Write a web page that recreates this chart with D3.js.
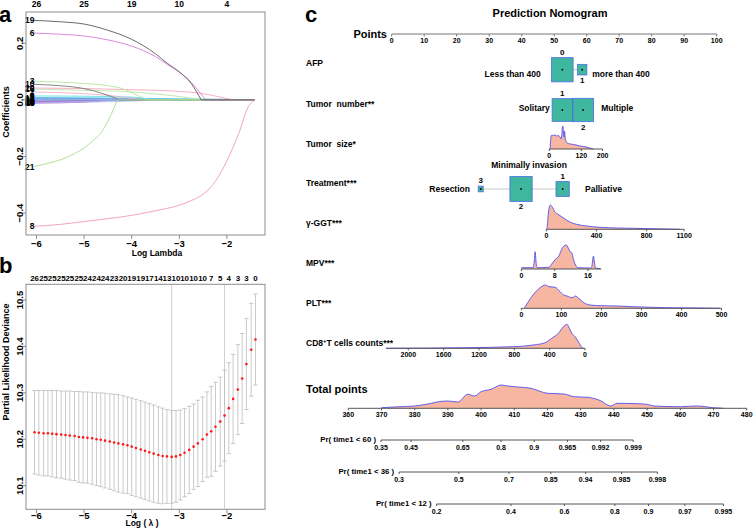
<!DOCTYPE html>
<html><head><meta charset="utf-8">
<script src="https://cdn.jsdelivr.net/npm/d3@7"></script>
<style>
body{margin:0;background:#fff}
text{font-family:"Liberation Sans",Arial,Helvetica,sans-serif;font-weight:bold;fill:#000;white-space:pre}
</style>
</head><body>
<svg id="c" width="753" height="530"></svg>
<script>
// ---------------- DATA ----------------
// Panel a: LASSO coefficient paths (log lambda, coefficient)
const aLambdaTicks = [-6, -5, -4, -3, -2];
const aTopCounts = ["26", "25", "19", "10", "4"];
const aCoefTicks = [-0.4, -0.2, 0.0, 0.2];
const coefLabels = ["1","4","7","9","11","12","13","14","15","17","18","22","23","24","25","26","5","2","16","20","10","3","21","8","6","19"];
const coefPaths = [
  [[-6.05,0.008],[-4,0.006],[-3,0.004],[-2,0.002],[-1.5,0],[-1.42,0]],
  [[-6.05,0.004],[-5,0.003],[-4.5,0],[-1.42,0]],
  [[-6.05,0.002],[-5,0.0015],[-3.8,0],[-1.42,0]],
  [[-6.05,-0.003],[-5,-0.002],[-4,0],[-1.42,0]],
  [[-6.05,-0.006],[-5,-0.004],[-4.3,0],[-1.42,0]],
  [[-6.05,-0.008],[-5,-0.006],[-4.6,0],[-1.42,0]],
  [[-6.05,-0.01],[-5,-0.008],[-4,-0.004],[-3.5,0],[-1.42,0]],
  [[-6.05,-0.004],[-5.5,-0.002],[-5,0],[-1.42,0]],
  [[-6.05,-0.012],[-5,-0.008],[-4.4,0],[-1.42,0]],
  [[-6.05,0.006],[-5,0.005],[-4,0.003],[-3.2,0],[-1.42,0]],
  [[-6.05,-0.002],[-5.2,0],[-1.42,0]],
  [[-6.05,-0.005],[-5,-0.003],[-3.9,0],[-1.42,0]],
  [[-6.05,-0.007],[-5.5,-0.005],[-4.8,0],[-1.42,0]],
  [[-6.05,0.003],[-4,0.002],[-2.8,0],[-1.42,0]],
  [[-6.05,-0.009],[-5,-0.006],[-4.1,0],[-1.42,0]],
  [[-6.05,0.001],[-5.5,0],[-1.42,0]],
  [[-6.05,0.014],[-5,0.013],[-4,0.01],[-3.7,0.004],[-3.5,0],[-1.42,0]],
  [[-6.05,0.028],[-5,0.022],[-4.5,0.016],[-4,0.006],[-3.75,0],[-1.42,0]],
  [[-6.05,0.038],[-5,0.034],[-4,0.028],[-3.5,0.021],[-3,0.012],[-2.75,0.006],[-2.5,0],[-1.42,0]],
  [[-6.05,0.042],[-5,0.04],[-4,0.036],[-3,0.03],[-2.5,0.022],[-2.2,0.012],[-1.88,0],[-1.42,0]],
  [[-6.05,0.055],[-5.5,0.05],[-5,0.04],[-4.6,0.022],[-4.25,0],[-1.42,0]],
  [[-6.05,0.066],[-5.5,0.063],[-5,0.058],[-4.5,0.05],[-4.2,0.04],[-3.95,0.022],[-3.68,0],[-1.42,0]],
  [[-6.05,-0.236],[-5.8,-0.226],[-5.5,-0.212],[-5.2,-0.19],[-5,-0.17],[-4.8,-0.142],[-4.65,-0.118],[-4.5,-0.075],[-4.4,-0.04],[-4.3,0],[-1.42,0]],
  [[-6.05,-0.447],[-5.5,-0.44],[-5,-0.43],[-4.5,-0.42],[-4,-0.408],[-3.5,-0.392],[-3,-0.372],[-2.75,-0.356],[-2.5,-0.333],[-2.25,-0.29],[-2,-0.215],[-1.75,-0.118],[-1.55,-0.024],[-1.47,-0.008],[-1.42,0]],
  [[-6.05,0.236],[-5.5,0.232],[-5,0.226],[-4.5,0.212],[-4,0.19],[-3.5,0.153],[-3.25,0.125],[-3,0.098],[-2.75,0.062],[-2.55,0.022],[-2.44,0],[-1.42,0]],
  [[-6.05,0.281],[-5.5,0.276],[-5,0.268],[-4.5,0.246],[-4,0.214],[-3.5,0.163],[-3.25,0.129],[-3,0.099],[-2.75,0.058],[-2.54,0],[-1.42,0]]
];
const coefColors = ["#49c9d8","#8a8ff0","#9a6fd0","#7f5cc9","#6d80e8","#a485d8","#a5c8f5","#8e8e8e","#b08ae0","#5a7ae0","#c9b0ee","#7aa0e8","#9b70c8","#b0d0f0","#c8a0e0","#6fb0e0","#5fe0ea","#f3b0c8","#b8e6a5","#f5a3c0","#7a7a7a","#b5e3a0","#a8dd8f","#f29ab8","#d77ad9","#5a5a5a"];

// Panel b: cross-validation curve
const bLogLambda = [-6.04,-5.95,-5.85,-5.76,-5.67,-5.58,-5.48,-5.39,-5.30,-5.20,-5.11,-5.02,-4.93,-4.83,-4.74,-4.65,-4.56,-4.46,-4.37,-4.28,-4.18,-4.09,-4.00,-3.91,-3.81,-3.72,-3.63,-3.54,-3.44,-3.35,-3.26,-3.16,-3.07,-2.98,-2.89,-2.79,-2.70,-2.61,-2.51,-2.42,-2.33,-2.24,-2.14,-2.05,-1.96,-1.87,-1.77,-1.68,-1.59,-1.49,-1.40];
const bCvm = [10.215,10.214,10.213,10.213,10.212,10.211,10.210,10.209,10.208,10.207,10.205,10.204,10.203,10.202,10.200,10.199,10.197,10.195,10.193,10.191,10.189,10.187,10.184,10.181,10.178,10.175,10.172,10.169,10.166,10.164,10.163,10.162,10.163,10.166,10.171,10.177,10.184,10.191,10.200,10.210,10.217,10.227,10.238,10.251,10.267,10.287,10.307,10.331,10.362,10.393,10.415];
const bCvUp = [10.305,10.305,10.305,10.305,10.305,10.305,10.304,10.304,10.304,10.303,10.303,10.302,10.302,10.301,10.300,10.300,10.299,10.298,10.297,10.296,10.294,10.291,10.289,10.286,10.283,10.280,10.277,10.274,10.270,10.267,10.264,10.262,10.262,10.263,10.266,10.271,10.276,10.284,10.291,10.302,10.314,10.323,10.334,10.349,10.365,10.383,10.404,10.428,10.460,10.493,10.513];
const bCvLo = [10.125,10.123,10.121,10.121,10.119,10.117,10.116,10.114,10.112,10.111,10.107,10.106,10.105,10.103,10.100,10.098,10.095,10.092,10.089,10.086,10.084,10.083,10.079,10.076,10.073,10.070,10.067,10.064,10.062,10.061,10.062,10.062,10.064,10.069,10.076,10.083,10.092,10.098,10.109,10.118,10.120,10.131,10.142,10.153,10.169,10.191,10.210,10.234,10.264,10.293,10.317];
const bTopNz = ["26","25","25","25","25","25","24","24","24","23","20","19","19","17","14","13","10","10","10","10","7","5","4","3","3","0"];
const bDevTicks = [10.1, 10.2, 10.3, 10.4, 10.5];
const bLambdaMin = -3.16, bLambda1se = -2.05;

// Panel c: nomogram
const pointTicks = d3.range(0, 101, 10);
const afpLevels = ["0","1"], afpNames = ["Less than 400","more than 400"], afpPoints = [52.5, 58.6], afpCounts = [467, 88];
const tnLevels = ["1","2"], tnNames = ["Solitary","Multiple"], tnPoints = [52.5, 58.9], tnCounts = [416, 430];
const trLevels = ["3","2","1"], trNames = ["Resection","Minimally invasion","Palliative"], trPoints = [27.4, 39.8, 52.6], trCounts = [25, 497, 177];

const tsTicks = [0, 120, 200], tsRange = [0, 200], tsPts = [48.5, 64.9];
const tsX = [3,6,10,15,22,28,34,40,44,47,49,51,53,55,57,60,63,66,72,80,90,102,115,128,140,152,165];
const tsD = [0,12,14,13.5,14,13,13.5,12,10,14,22,23,16,12,18,10,7.5,6.5,5.5,5,4.5,4,3,2.5,2,1,0];

const ggtTicks = [0, 400, 800, 1100], ggtRange = [0, 1100], ggtPts = [47.6, 90.0];
const ggtX = [0,5,13,21,32,48,67,93,133,160,200,240,320,427,560,693,960,1067];
const ggtD = [0,1,12.6,21,24.3,22,17.6,15,11.6,9.3,6.6,5,3.3,2,1.3,1,0.3,0];

const mpvTicks = [0, 8, 16], mpvRange = [0, 19.2], mpvPts = [39.9, 60.4];
const mpvX = [0,2.8,3.1,3.3,3.5,3.8,6.6,7.4,8.2,9.0,9.6,10.2,10.8,11.3,11.7,12.1,12.5,13.0,13.6,16.6,16.9,17.1,17.3,17.5,17.8,19.0];
const mpvD = [1.3,1.3,8,17.3,8,1.3,1.7,5.7,9.7,13,19,23,24,20.7,17.3,16.3,9.7,4,1.3,1,2.3,8,13,8,1,0.3];

const pltTicks = [0, 100, 200, 300, 400, 500], pltRange = [0, 500], pltPts = [39.9, 101.5];
const pltX = [8,23,36,48,60,69,85,94,106,114,127,135,143,156,172,197,239,280,322,363,446,496];
const pltD = [0.6,10,16.6,21,23.3,21.6,21,17.6,13.3,12.3,10.6,12.3,10,5.6,3.3,2.6,2.3,1.6,1,0.6,0.3,0];

const cd8Ticks = [2000, 1600, 1200, 800, 400, 0], cd8Range = [0, 2250], cd8Pts = [59.5, 5.1];
const cd8X = [19,37,76,113,150,177,207,245,302,377,452,585,811,1338,2251];
const cd8D = [0,1,6.6,11.6,15,20,24,21.6,15,10,5.6,3.3,1.6,0.6,0];

const totalTicks = d3.range(360, 481, 10);
const totalX = [370,375,380,385,388,390,393,396,398,400,403,406,408,410,415,420,425,428,432,436,439,441,447,450,452,460,465,470,473];
const totalD = [0.6,1.5,2.3,5,7,7.3,6.3,14,12.3,16.6,19,23.3,22.3,21.6,20,15,14.3,11.6,11,7.6,2.3,5,4.6,4,2.3,1.6,2.3,0.6,0];

const pr60Labels = ["0.35","0.45","0.65","0.8","0.9","0.965","0.992","0.999"];
const pr60Total = [369.85,378.9,394.5,406.0,416.0,426.0,436.0,445.8];
const pr36Labels = ["0.3","0.5","0.7","0.85","0.94","0.985","0.998"];
const pr36Total = [375.3,393.3,408.4,421.0,431.5,442.3,453.1];
const pr12Labels = ["0.2","0.4","0.6","0.8","0.9","0.97","0.995"];
const pr12Total = [386.6,409.0,425.1,440.3,450.4,461.4,473.0];

// ---------------- DRAW ----------------
const svg = d3.select("#c");
function T(g, x, y, s, size, anchor) {
  return g.append("text").attr("x", x).attr("y", y).attr("font-size", size)
    .attr("text-anchor", anchor || "start").text(s);
}

// ===== Panel a =====
const gA = svg.append("g");
const xA = d3.scaleLinear().domain([-6.22, -1.20]).range([26, 265]);
const yA = d3.scaleLinear().domain([-0.4775, 0.3106]).range([235, 12]);
svg.append("defs").append("clipPath").attr("id", "clipA")
  .append("rect").attr("x", 26).attr("y", 12).attr("width", 239).attr("height", 223);
const lineMono = d3.line().x(d => xA(d[0])).y(d => yA(d[1])).curve(d3.curveMonotoneX);
const lineLin = d3.line().x(d => xA(d[0])).y(d => yA(d[1]));
const gPaths = gA.append("g").attr("clip-path", "url(#clipA)");
coefPaths.forEach((p, i) => {
  const k = p.findIndex(d => d[1] === 0);
  gPaths.append("path").attr("d", lineMono(p.slice(0, k + 1))).attr("fill", "none")
    .attr("stroke", coefColors[i]).attr("stroke-width", 0.9);
  if (p.length - k > 1) gPaths.append("path").attr("d", lineLin(p.slice(k))).attr("fill", "none")
    .attr("stroke", coefColors[i]).attr("stroke-width", 0.9);
});
coefPaths.forEach((p, i) => {
  T(gA, xA(p[0][0]) + 0.5, yA(p[0][1]) + 3, coefLabels[i], 8.5, "end");
});
gA.append("rect").attr("x", 26).attr("y", 12).attr("width", 239).attr("height", 223)
  .attr("fill", "none").attr("stroke", "#8c8c8c");
aLambdaTicks.forEach((v, i) => {
  gA.append("line").attr("x1", xA(v)).attr("x2", xA(v)).attr("y1", 235).attr("y2", 239).attr("stroke", "#8c8c8c");
  T(gA, xA(v), 247, String(v).replace("-", "\u2212"), 9.5, "middle");
  T(gA, xA(v), 6.5, aTopCounts[i], 8.5, "middle");
});
aCoefTicks.forEach(v => {
  gA.append("line").attr("x1", 22).attr("x2", 26).attr("y1", yA(v)).attr("y2", yA(v)).attr("stroke", "#8c8c8c");
  const lab = (v < 0 ? "\u2212" : "") + Math.abs(v).toFixed(1);
  gA.append("text").attr("transform", `translate(23,${yA(v)}) rotate(-90)`).attr("font-size", 9.5)
    .attr("text-anchor", "middle").text(lab);
});
gA.append("text").attr("transform", "translate(9,112) rotate(-90)").attr("font-size", 9)
  .attr("text-anchor", "middle").text("Coefficients");
T(gA, 157, 256, "Log Lambda", 8.5, "middle");
T(gA, -1, 22, "a", 22, "start");

// ===== Panel b =====
const gB = svg.append("g");
const xB = d3.scaleLinear().domain([-6.22, -1.20]).range([26, 265]);
const yB = d3.scaleLinear().domain([10.049, 10.534]).range([509.3, 284.3]);
[bLambdaMin, bLambda1se].forEach(v => {
  gB.append("line").attr("x1", xB(v)).attr("x2", xB(v)).attr("y1", 284.3).attr("y2", 509.3)
    .attr("stroke", "#c4c4c4").attr("stroke-width", 0.8);
});
bLogLambda.forEach((v, i) => {
  const x = xB(v);
  gB.append("line").attr("x1", x).attr("x2", x).attr("y1", yB(bCvLo[i])).attr("y2", yB(bCvUp[i]))
    .attr("stroke", "#bdbdbd").attr("stroke-width", 0.8);
  [bCvLo[i], bCvUp[i]].forEach(c => gB.append("line").attr("x1", x - 2.2).attr("x2", x + 2.2)
    .attr("y1", yB(c)).attr("y2", yB(c)).attr("stroke", "#bdbdbd").attr("stroke-width", 0.8));
});
bLogLambda.forEach((v, i) => {
  gB.append("circle").attr("cx", xB(v)).attr("cy", yB(bCvm[i])).attr("r", 1.3).attr("fill", "#ff1a1a");
});
gB.append("rect").attr("x", 26).attr("y", 284.3).attr("width", 239).attr("height", 225)
  .attr("fill", "none").attr("stroke", "#8c8c8c");
bTopNz.forEach((s, k) => T(gB, xB(bLogLambda[2 * k]), 281, s, 7.9, "middle"));
aLambdaTicks.forEach(v => {
  gB.append("line").attr("x1", xB(v)).attr("x2", xB(v)).attr("y1", 509.3).attr("y2", 513.3).attr("stroke", "#8c8c8c");
  T(gB, xB(v), 519, String(v).replace("-", "\u2212"), 9.5, "middle");
});
bDevTicks.forEach(v => {
  gB.append("line").attr("x1", 22).attr("x2", 26).attr("y1", yB(v)).attr("y2", yB(v)).attr("stroke", "#8c8c8c");
  gB.append("text").attr("transform", `translate(23,${yB(v)}) rotate(-90)`).attr("font-size", 9.5)
    .attr("text-anchor", "middle").text(v.toFixed(1));
});
gB.append("text").attr("transform", "translate(9,362) rotate(-90)").attr("font-size", 9)
  .attr("text-anchor", "middle").text("Partial Likelihood Deviance");
T(gB, 142, 526, "Log ( \u03bb )", 8.5, "middle");
T(gB, -1, 273, "b", 22, "start");

// ===== Panel c =====
const gC = svg.append("g");
const P = d3.scaleLinear().domain([0, 100]).range([391.7, 716.7]);
const TP = d3.scaleLinear().domain([360, 480]).range([348.3, 746.7]);
const axisCol = "#555", boxFill = "#3fb69e", boxStroke = "#4862e8", densFill = "#f6b6a2", densStroke = "#5050f0";
T(gC, 305, 22, "c", 22, "start");
T(gC, 550, 17, "Prediction Nomogram", 11, "middle");
T(gC, 387, 38, "Points", 11, "end");
gC.append("line").attr("x1", P(0)).attr("x2", P(100)).attr("y1", 34).attr("y2", 34).attr("stroke", "#777");
pointTicks.forEach(v => {
  gC.append("line").attr("x1", P(v)).attr("x2", P(v)).attr("y1", 34).attr("y2", 36.5).attr("stroke", "#777");
  T(gC, P(v), 43, String(v), 7, "middle");
});

const rowLabels = [["AFP",66],["Tumor  number**",107],["Tumor  size*",147],["Treatment***",186],
  ["\u03b3-GGT***",226],["MPV***",266],["PLT***",306]];
rowLabels.forEach(r => T(gC, 306, r[1], r[0], 8.5, "start"));
const cd8Lab = gC.append("text").attr("x", 306).attr("y", 346).attr("font-size", 8.5);
cd8Lab.append("tspan").text("CD8");
cd8Lab.append("tspan").attr("font-size", 6).attr("dy", -3).text("+");
cd8Lab.append("tspan").attr("dy", 3).text("T cells counts***");

// categorical rows
function catRow(points, counts, levels, cy) {
  const boxes = points.map((p, i) => {
    const w = Math.sqrt(counts[i]), h = w * 1.12;
    return {cx: P(p), w, h, x0: P(p) - w / 2, x1: P(p) + w / 2, y0: cy - h / 2, y1: cy + h / 2};
  });
  gC.append("line").attr("x1", boxes[0].cx).attr("x2", boxes[boxes.length - 1].cx)
    .attr("y1", cy).attr("y2", cy).attr("stroke", "#c8c8c8");
  boxes.forEach((b, i) => {
    gC.append("rect").attr("x", b.x0).attr("y", b.y0).attr("width", b.w).attr("height", b.h)
      .attr("fill", boxFill).attr("stroke", boxStroke).attr("stroke-opacity", 0.75).attr("stroke-width", 1);
    gC.append("circle").attr("cx", b.cx).attr("cy", cy).attr("r", 0.9).attr("fill", "#000");
    if (i % 2 === 0) T(gC, b.cx, b.y0 - 3, levels[i], 8, "middle");
    else T(gC, b.cx, b.y1 + 8, levels[i], 8, "middle");
  });
  return boxes;
}
const afpB = catRow(afpPoints, afpCounts, afpLevels, 69.7);
T(gC, afpB[0].x0 - 10.7, 77, afpNames[0], 8.5, "end");
T(gC, afpB[1].x1 + 5.3, 77, afpNames[1], 8.5, "start");
const tnB = catRow(tnPoints, tnCounts, tnLevels, 110);
T(gC, tnB[0].x0 - 2.3, 111, tnNames[0], 8.5, "end");
T(gC, tnB[1].x1 + 7.7, 111, tnNames[1], 8.5, "start");
const trB = catRow(trPoints, trCounts, trLevels, 189);
T(gC, trB[0].x0 - 8.3, 192, trNames[0], 8.5, "end");
T(gC, trB[1].cx + 8, trB[1].y0 - 8.5, trNames[1], 8.5, "middle");
T(gC, trB[2].x1 + 15.7, 192, trNames[2], 8.5, "start");

// continuous rows with densities
const dens = d3.scaleLinear().domain([0, 25]).range([0, 25]);
function varScale(v0, v1, pts) { return d3.scaleLinear().domain([v0, v1]).range([P(pts[0]), P(pts[1])]); }
function drawCont(sx, range, ticks, xs, ds, y) {
  const data = xs.map((x, i) => [x, ds[i]]);
  const area = d3.area().x(d => sx(d[0])).y0(y).y1(d => y - dens(d[1])).curve(d3.curveMonotoneX);
  const top = d3.line().x(d => sx(d[0])).y(d => y - dens(d[1])).curve(d3.curveMonotoneX);
  gC.append("path").attr("d", area(data)).attr("fill", densFill);
  gC.append("path").attr("d", top(data)).attr("fill", "none").attr("stroke", densStroke).attr("stroke-width", 0.9);
  gC.append("line").attr("x1", sx(range[0])).attr("x2", sx(range[1])).attr("y1", y).attr("y2", y).attr("stroke", axisCol);
  ticks.forEach(t => {
    gC.append("line").attr("x1", sx(t)).attr("x2", sx(t)).attr("y1", y).attr("y2", y + 2).attr("stroke", axisCol);
    T(gC, sx(t), y + 9, String(t), 7, "middle");
  });
}
drawCont(varScale(0, 200, tsPts), tsRange, tsTicks, tsX, tsD, 149);
drawCont(varScale(0, 1100, ggtPts), ggtRange, ggtTicks, ggtX, ggtD, 229.3);
drawCont(varScale(0, 16, mpvPts), mpvRange, mpvTicks, mpvX, mpvD, 269);
drawCont(varScale(0, 500, pltPts), pltRange, pltTicks, pltX, pltD, 308.3);
drawCont(varScale(0, 2000, cd8Pts), cd8Range, cd8Ticks, cd8X, cd8D, 348.3);

// total points
T(gC, 306, 393, "Total points", 11, "start");
drawCont(TP, [360, 480], totalTicks, totalX, totalD, 408.3);

// probability axes
function prAxis(label, labels, totals, y) {
  gC.append("line").attr("x1", TP(totals[0])).attr("x2", TP(totals[totals.length - 1]))
    .attr("y1", y).attr("y2", y).attr("stroke", axisCol);
  totals.forEach((t, i) => {
    gC.append("line").attr("x1", TP(t)).attr("x2", TP(t)).attr("y1", y).attr("y2", y + 2).attr("stroke", axisCol);
    T(gC, TP(t), y + 9.5, labels[i], 7, "middle");
  });
  T(gC, TP(totals[0]) - 5, y + 2, label, 7.8, "end");
}
prAxis("Pr( time1 < 60 )", pr60Labels, pr60Total, 440);
prAxis("Pr( time1 < 36 )", pr36Labels, pr36Total, 472);
prAxis("Pr( time1 < 12 )", pr12Labels, pr12Total, 504);
</script>
</body></html>
